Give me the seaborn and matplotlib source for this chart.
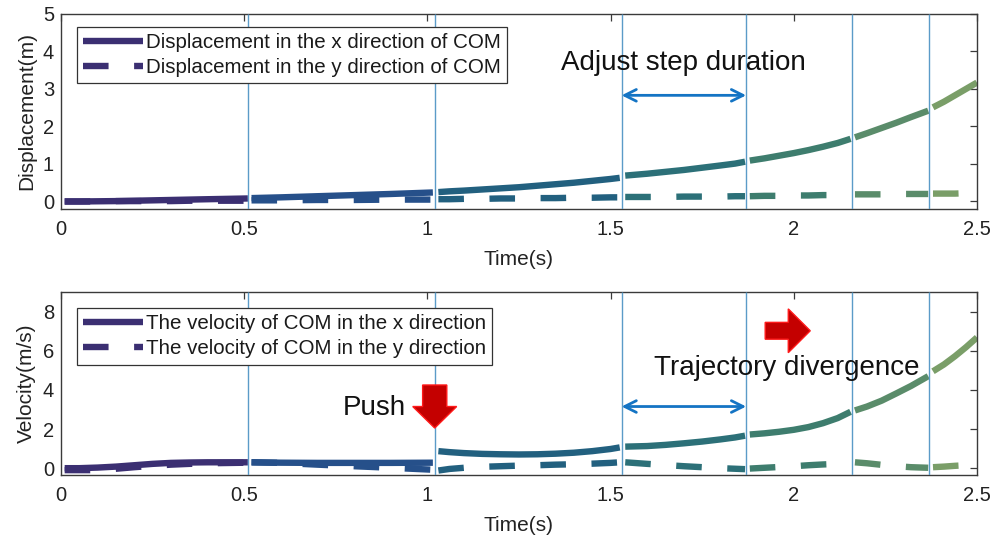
import numpy as np
import pandas as pd
import matplotlib
matplotlib.use("Agg")
import matplotlib.pyplot as plt
from matplotlib.lines import Line2D
from matplotlib.patches import FancyArrow
import seaborn as sns

# Step boundaries (s) where the gait phase switches
step_times = [0.51, 1.02, 1.53, 1.87, 2.16, 2.37]

# Sample times for each gait phase
seg_t = [
    [0.01, 0.05, 0.1, 0.15, 0.2, 0.25, 0.3, 0.35, 0.4, 0.51],
    [0.52, 0.6, 0.7, 0.8, 0.9, 1.015],
    [1.03, 1.06, 1.1, 1.15, 1.2, 1.25, 1.3, 1.35, 1.4, 1.45, 1.5, 1.525],
    [1.54, 1.6, 1.65, 1.7, 1.75, 1.8, 1.84, 1.867],
    [1.88, 1.92, 1.96, 2.0, 2.04, 2.08, 2.12, 2.155],
    [2.167, 2.2, 2.24, 2.28, 2.32, 2.367],
    [2.38, 2.41, 2.44, 2.47, 2.5],
]

# COM displacement (m)
disp_x = [
    [0.0, 0.0, 0.005, 0.01, 0.02, 0.03, 0.04, 0.05, 0.06, 0.08],
    [0.09, 0.11, 0.14, 0.17, 0.2, 0.24],
    [0.25, 0.27, 0.29, 0.32, 0.35, 0.38, 0.42, 0.46, 0.5, 0.55, 0.6, 0.63],
    [0.69, 0.74, 0.79, 0.84, 0.9, 0.96, 1.01, 1.06],
    [1.09, 1.15, 1.22, 1.29, 1.37, 1.46, 1.56, 1.67],
    [1.71, 1.82, 1.96, 2.1, 2.25, 2.42],
    [2.51, 2.66, 2.83, 3.0, 3.17],
]
disp_y = [
    [0.0, 0.0, 0.0, 0.01, 0.01, 0.01, 0.01, 0.02, 0.02, 0.02],
    [0.03, 0.03, 0.04, 0.04, 0.05, 0.05],
    [0.06, 0.06, 0.07, 0.07, 0.08, 0.08, 0.09, 0.09, 0.1, 0.1, 0.11, 0.11],
    [0.12, 0.12, 0.12, 0.13, 0.13, 0.13, 0.14, 0.14],
    [0.14, 0.15, 0.15, 0.16, 0.16, 0.17, 0.17, 0.18],
    [0.19, 0.19, 0.19, 0.2, 0.2, 0.2],
    [0.21, 0.21, 0.21, 0.22, 0.22],
]

# COM velocity (m/s)
vel_x = [
    [0.0, 0.0, 0.03, 0.08, 0.15, 0.22, 0.27, 0.29, 0.3, 0.3],
    [0.3, 0.28, 0.27, 0.27, 0.27, 0.28],
    [0.87, 0.82, 0.77, 0.73, 0.71, 0.7, 0.71, 0.74, 0.79, 0.87, 0.98, 1.06],
    [1.1, 1.13, 1.19, 1.27, 1.36, 1.47, 1.57, 1.66],
    [1.72, 1.78, 1.86, 1.96, 2.1, 2.3, 2.56, 2.88],
    [2.95, 3.15, 3.45, 3.82, 4.2, 4.7],
    [4.95, 5.3, 5.72, 6.18, 6.68],
]
vel_y = [
    [-0.1, -0.1, -0.1, -0.03, 0.05, 0.12, 0.18, 0.22, 0.25, 0.28],
    [0.3, 0.27, 0.18, 0.1, 0.02, -0.08],
    [-0.12, -0.04, 0.02, 0.07, 0.1, 0.13, 0.15, 0.18, 0.2, 0.23, 0.27, 0.3],
    [0.3, 0.22, 0.16, 0.1, 0.05, 0.0, -0.03, -0.05],
    [-0.02, 0.02, 0.06, 0.1, 0.15, 0.19, 0.22, 0.25],
    [0.3, 0.25, 0.17, 0.1, 0.05, 0.02],
    [0.05, 0.08, 0.12, 0.15, 0.18],
]

phase_names = ["P1", "P2", "P3", "P4", "P5", "P6", "P7"]
phase_colors = ["#3b2f72", "#26508a", "#22607f", "#2c7078",
                "#3e7d6e", "#5a8c6a", "#7a9e68"]

x_ticks = [0, 0.5, 1, 1.5, 2, 2.5]


def to_frame(xs, ys):
    rows = []
    for i, t in enumerate(seg_t):
        for tt, a, b in zip(t, xs[i], ys[i]):
            rows.append((tt, a, phase_names[i], "x"))
            rows.append((tt, b, phase_names[i], "y"))
    return pd.DataFrame(rows, columns=["t", "value", "phase", "dir"])


df_disp = to_frame(disp_x, disp_y)
df_vel = to_frame(vel_x, vel_y)

sns.set_theme(style="white")
plt.rcParams["font.family"] = ["Liberation Sans", "DejaVu Sans"]
plt.rcParams["lines.solid_capstyle"] = "butt"
plt.rcParams["lines.dash_capstyle"] = "butt"

fig = plt.figure(figsize=(10.05, 5.39), dpi=100)
ax1 = fig.add_axes([0.0607, 0.6123, 0.9114, 0.3618])
ax2 = fig.add_axes([0.0607, 0.1187, 0.9114, 0.3395])

line_kw = dict(x="t", y="value", hue="phase", style="dir",
               hue_order=phase_names, palette=phase_colors,
               style_order=["x", "y"], dashes={"x": "", "y": (4, 4)},
               estimator=None, legend=False, linewidth=4.6)

axis_color = "#3a3a3a"
grid_color = "#5b9bc8"

for ax, df in ((ax1, df_disp), (ax2, df_vel)):
    sns.lineplot(data=df, ax=ax, **line_kw)
    for st in step_times:
        ax.axvline(st, color=grid_color, lw=1.0, zorder=3)
    ax.set_xlim(0, 2.5)
    ax.set_xticks(x_ticks)
    ax.set_xticklabels(["0", "0.5", "1", "1.5", "2", "2.5"])
    ax.set_xlabel("Time(s)", fontsize=15, color="#222222", labelpad=8)
    ax.tick_params(direction="in", length=5, width=0.9, top=True, right=True,
                   labelsize=14.5, colors=axis_color, labelcolor="#222222",
                   pad=8)
    for sp in ax.spines.values():
        sp.set_color(axis_color)
        sp.set_linewidth(1.0)
        sp.set_visible(True)

ax1.set_ylim(-0.2, 5)
ax1.set_yticks([0, 1, 2, 3, 4, 5])
ax1.set_ylabel("Displacement(m)", fontsize=15, color="#222222", labelpad=5)
ax1.tick_params(axis="y", pad=5)

ax2.set_ylim(-0.35, 9)
ax2.set_yticks([0, 2, 4, 6, 8])
ax2.set_ylabel("Velocity(m/s)", fontsize=15, color="#222222", labelpad=5)
ax2.tick_params(axis="y", pad=5)


def make_legend(ax, labels, anchor):
    handles = [
        Line2D([], [], color=phase_colors[0], lw=4.6, solid_capstyle="butt"),
        Line2D([], [], color=phase_colors[0], lw=4.6, ls=(0, (4, 4)),
               dash_capstyle="butt"),
    ]
    leg = ax.legend(handles, labels, loc="upper left", bbox_to_anchor=anchor,
                    borderaxespad=0, fontsize=14.8, handlelength=2.9,
                    handletextpad=0.15, labelspacing=0.3, borderpad=0.3,
                    fancybox=False, framealpha=1, edgecolor="#333333")
    leg.get_frame().set_linewidth(0.9)
    for txt in leg.get_texts():
        txt.set_color("#1a1a1a")
    return leg


make_legend(ax1, ["Displacement in the x direction of COM",
                  "Displacement in the y direction of COM"], (0.0175, 0.935))
make_legend(ax2, ["The velocity of COM in the x direction",
                  "The velocity of COM in the y direction"], (0.0175, 0.912))

# Step-duration adjustment annotations
arrow_color = "#1474c4"
arrow_props = dict(arrowstyle="<->,head_length=0.7,head_width=0.35",
                   lw=2.0, color=arrow_color, shrinkA=0, shrinkB=0)
ax1.annotate("", xy=(1.53, 2.83), xytext=(1.87, 2.83), arrowprops=arrow_props)
ax2.annotate("", xy=(1.53, 3.15), xytext=(1.87, 3.15), arrowprops=arrow_props)

ax1.text(1.70, 3.7, "Adjust step duration", fontsize=20, ha="center",
         va="center", color="#111111")
ax2.text(1.98, 5.13, "Trajectory divergence", fontsize=20, ha="center",
         va="center", color="#111111")
ax2.text(0.855, 3.1, "Push", fontsize=20, ha="center", va="center",
         color="#111111")

# Red push and divergence arrows
red_face = "#c40000"
red_edge = "#ff1a1a"
ax2.add_patch(FancyArrow(1.02, 4.25, 0, -2.2, width=0.066, head_width=0.12,
                         head_length=1.1, length_includes_head=True,
                         facecolor=red_face, edgecolor=red_edge, lw=1,
                         zorder=5))
ax2.add_patch(FancyArrow(1.922, 7.02, 0.123, 0, width=0.86, head_width=2.24,
                         head_length=0.06, length_includes_head=True,
                         facecolor=red_face, edgecolor=red_edge, lw=1,
                         zorder=5))

fig.savefig("out.png", dpi=100)
